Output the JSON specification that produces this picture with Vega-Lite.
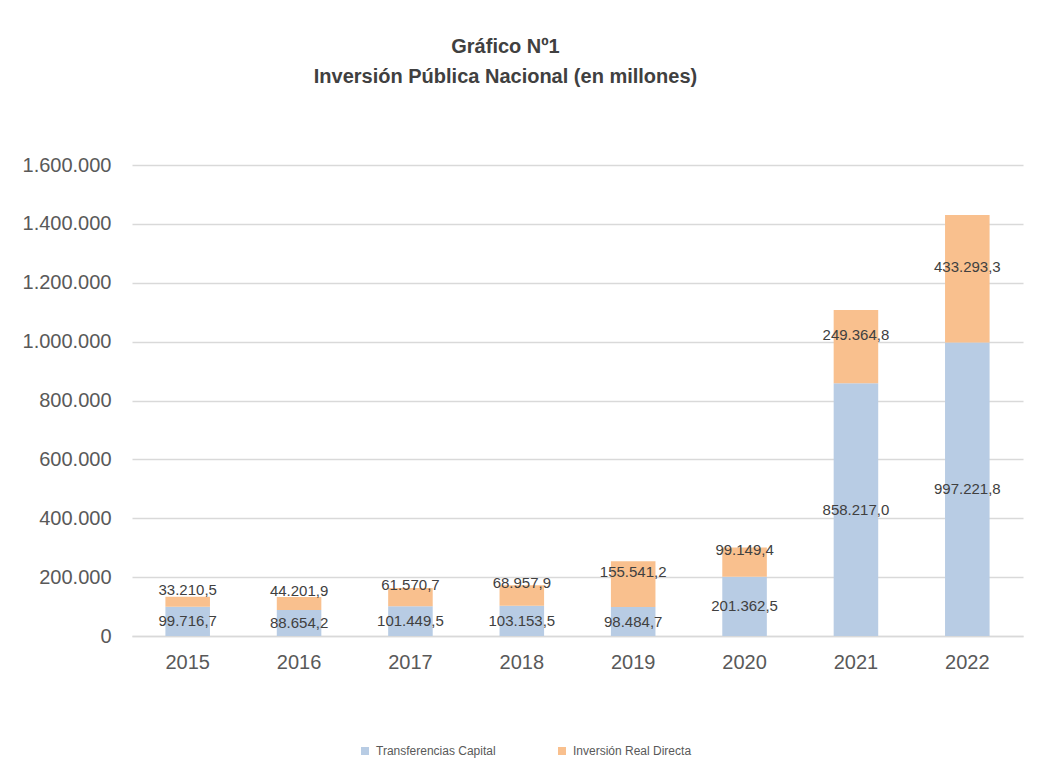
{
  "$schema": "https://vega.github.io/schema/vega-lite/v6.json",
  "autosize": "none",
  "width": 891,
  "height": 471,
  "padding": {"left": 132, "top": 165, "right": 16, "bottom": 144},
  "background": "white",
  "config": {
    "locale": {"number": {"decimal": ",", "thousands": ".", "grouping": [3], "currency": ["$", ""]}},
    "font": "Liberation Sans",
    "view": {"stroke": null}
  },
  "title": {
    "text": ["Gráfico Nº1", "Inversión Pública Nacional (en millones)"],
    "fontSize": 20,
    "fontWeight": "bold",
    "color": "#404040",
    "anchor": "middle",
    "frame": "group",
    "offset": 68,
    "dx": -72,
    "lineHeight": 30,
    "font": "Liberation Sans"
  },
  "data": {
    "values": [
      {"anio": "2015", "serie": "Transferencias Capital", "valor": 99716.7},
      {"anio": "2015", "serie": "Inversión Real Directa", "valor": 33210.5},
      {"anio": "2016", "serie": "Transferencias Capital", "valor": 88654.2},
      {"anio": "2016", "serie": "Inversión Real Directa", "valor": 44201.9},
      {"anio": "2017", "serie": "Transferencias Capital", "valor": 101449.5},
      {"anio": "2017", "serie": "Inversión Real Directa", "valor": 61570.7},
      {"anio": "2018", "serie": "Transferencias Capital", "valor": 103153.5},
      {"anio": "2018", "serie": "Inversión Real Directa", "valor": 68957.9},
      {"anio": "2019", "serie": "Transferencias Capital", "valor": 98484.7},
      {"anio": "2019", "serie": "Inversión Real Directa", "valor": 155541.2},
      {"anio": "2020", "serie": "Transferencias Capital", "valor": 201362.5},
      {"anio": "2020", "serie": "Inversión Real Directa", "valor": 99149.4},
      {"anio": "2021", "serie": "Transferencias Capital", "valor": 858217.0},
      {"anio": "2021", "serie": "Inversión Real Directa", "valor": 249364.8},
      {"anio": "2022", "serie": "Transferencias Capital", "valor": 997221.8},
      {"anio": "2022", "serie": "Inversión Real Directa", "valor": 433293.3}
    ]
  },
  "encoding": {
    "x": {
      "field": "anio",
      "type": "nominal",
      "scale": {"paddingInner": 0.6, "paddingOuter": 0.3},
      "axis": {
        "title": null,
        "labelAngle": 0,
        "labelFontSize": 20,
        "labelColor": "#595959",
        "labelPadding": 16,
        "ticks": false,
        "domainColor": "#d9d9d9",
        "domainWidth": 1.5
      }
    },
    "order": {"field": "serie", "sort": "descending"}
  },
  "layer": [
    {
      "mark": {"type": "bar"},
      "encoding": {
        "y": {
          "field": "valor",
          "type": "quantitative",
          "stack": "zero",
          "scale": {"domain": [0, 1600000]},
          "axis": {
            "title": null,
            "values": [0, 200000, 400000, 600000, 800000, 1000000, 1200000, 1400000, 1600000],
            "format": ",.0f",
            "labelFontSize": 20,
            "labelColor": "#595959",
            "labelPadding": 21,
            "ticks": false,
            "domain": false,
            "gridColor": "#d9d9d9",
            "gridWidth": 1.5
          }
        },
        "color": {
          "field": "serie",
          "type": "nominal",
          "scale": {
            "domain": ["Transferencias Capital", "Inversión Real Directa"],
            "range": ["#b8cce4", "#f9c08e"]
          },
          "legend": {
            "title": null,
            "orient": "none",
            "legendX": 227,
            "legendY": 580,
            "direction": "horizontal",
            "symbolType": "square",
            "symbolSize": 64,
            "symbolStrokeWidth": 0,
            "labelFontSize": 12,
            "labelColor": "#595959",
            "labelOffset": 5,
            "columnPadding": 60
          }
        }
      }
    },
    {
      "mark": {"type": "text", "fontSize": 15, "color": "#404040"},
      "encoding": {
        "y": {"field": "valor", "type": "quantitative", "stack": "zero", "bandPosition": 0.5},
        "detail": {"field": "serie"},
        "text": {"field": "valor", "type": "quantitative", "format": ",.1f"},
        "opacity": {
          "condition": {"test": "datum.serie === 'Transferencias Capital'", "value": 1},
          "value": 0
        }
      }
    },
    {
      "mark": {"type": "text", "fontSize": 15, "color": "#404040", "dy": -12},
      "encoding": {
        "y": {"field": "valor", "type": "quantitative", "stack": "zero", "bandPosition": 0.5},
        "detail": {"field": "serie"},
        "text": {"field": "valor", "type": "quantitative", "format": ",.1f"},
        "opacity": {
          "condition": {"test": "datum.serie === 'Inversión Real Directa'", "value": 1},
          "value": 0
        }
      }
    }
  ]
}
